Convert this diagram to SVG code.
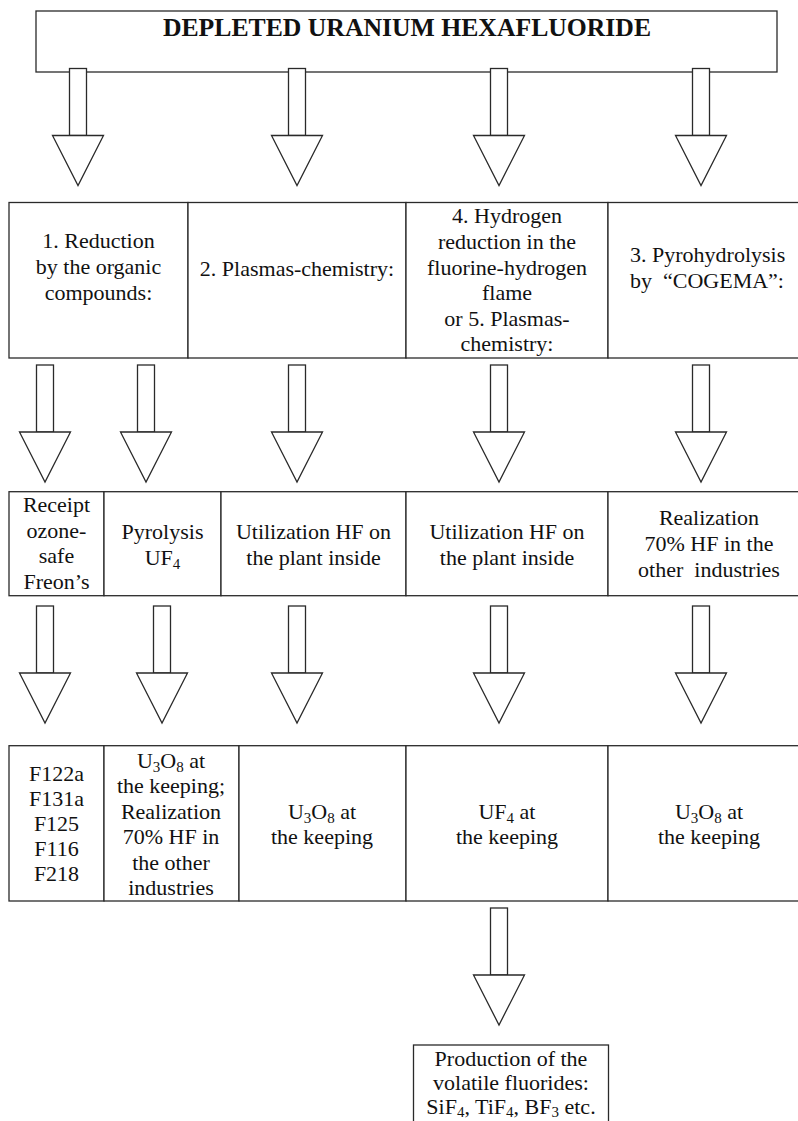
<svg xmlns="http://www.w3.org/2000/svg" xmlns:xlink="http://www.w3.org/1999/xlink" width="798" height="1121" viewBox="0 0 798 1121">
<style>
.box{fill:#fff;stroke:#2a2a2a;stroke-width:1.3}
.arr{fill:#fff;stroke:#2a2a2a;stroke-width:1.3}
text{font-family:"Liberation Serif","Times New Roman",serif;font-size:22px;fill:#111;text-anchor:middle}
.title{font-size:25.7px;font-weight:bold}
.l{text-anchor:start}
.sub{font-size:15px}
</style>
<defs>
<g id="arrow">
<rect class="arr" x="-8.5" y="0" width="17" height="67"/>
<polygon class="arr" points="-25.5,67 25.5,67 0,117"/>
</g>
</defs>
<rect width="798" height="1121" fill="#fff"/>
<g id="n-top">
<rect class="box" x="36" y="11" width="741" height="61"/>
<text class="title" x="407" y="36">DEPLETED URANIUM HEXAFLUORIDE</text>
</g>
<g id="n-r1c1">
<rect class="box" x="9" y="202.5" width="179" height="155.5"/>
<text x="98.5" y="248">1. Reduction</text>
<text x="98.5" y="274">by the organic</text>
<text x="98.5" y="300">compounds:</text>
</g>
<g id="n-r1c2">
<rect class="box" x="188" y="202.5" width="218" height="155.5"/>
<text x="297" y="276">2. Plasmas-chemistry:</text>
</g>
<g id="n-r1c3">
<rect class="box" x="406" y="202.5" width="202" height="155.5"/>
<text x="507" y="223">4. Hydrogen</text>
<text x="507" y="249">reduction in the</text>
<text x="507" y="275">fluorine-hydrogen</text>
<text x="507" y="300">flame</text>
<text x="507" y="326">or 5. Plasmas-</text>
<text x="507" y="351">chemistry:</text>
</g>
<g id="n-r1c4">
<rect class="box" x="608" y="202.5" width="195" height="155.5"/>
<text class="l" x="630" y="262">3. Pyrohydrolysis</text>
<text class="l" x="630" y="288" xml:space="preserve">by  “COGEMA”:</text>
</g>
<g id="n-r2c1">
<rect class="box" x="9" y="491.7" width="95" height="104"/>
<text x="56.5" y="512">Receipt</text>
<text x="56.5" y="538">ozone-</text>
<text x="56.5" y="563">safe</text>
<text x="56.5" y="589">Freon’s</text>
</g>
<g id="n-r2c2">
<rect class="box" x="104" y="491.7" width="117" height="104"/>
<text x="162.5" y="539">Pyrolysis</text>
<text x="162.5" y="565">UF<tspan class="sub" dy="4">4</tspan></text>
</g>
<g id="n-r2c3">
<rect class="box" x="221" y="491.7" width="185" height="104"/>
<text x="313.5" y="539">Utilization HF on</text>
<text x="313.5" y="565">the plant inside</text>
</g>
<g id="n-r2c4">
<rect class="box" x="406" y="491.7" width="202" height="104"/>
<text x="507" y="539">Utilization HF on</text>
<text x="507" y="565">the plant inside</text>
</g>
<g id="n-r2c5">
<rect class="box" x="608" y="491.7" width="195" height="104"/>
<text x="709" y="525">Realization</text>
<text x="709" y="551">70% HF in the</text>
<text x="709" y="577" xml:space="preserve">other  industries</text>
</g>
<g id="n-r3c1">
<rect class="box" x="9" y="745.7" width="95" height="155.3"/>
<text x="56.5" y="781">F122a</text>
<text x="56.5" y="806">F131a</text>
<text x="56.5" y="831">F125</text>
<text x="56.5" y="856">F116</text>
<text x="56.5" y="881">F218</text>
</g>
<g id="n-r3c2">
<rect class="box" x="104" y="745.7" width="135" height="155.3"/>
<text x="171" y="768">U<tspan class="sub" dy="4">3</tspan><tspan dy="-4">O</tspan><tspan class="sub" dy="4">8</tspan><tspan dy="-4"> at</tspan></text>
<text x="171" y="793">the keeping;</text>
<text x="171" y="819">Realization</text>
<text x="171" y="844">70% HF in</text>
<text x="171" y="870">the other</text>
<text x="171" y="895">industries</text>
</g>
<g id="n-r3c3">
<rect class="box" x="239" y="745.7" width="167" height="155.3"/>
<text x="322" y="819">U<tspan class="sub" dy="4">3</tspan><tspan dy="-4">O</tspan><tspan class="sub" dy="4">8</tspan><tspan dy="-4"> at</tspan></text>
<text x="322" y="844">the keeping</text>
</g>
<g id="n-r3c4">
<rect class="box" x="406" y="745.7" width="202" height="155.3"/>
<text x="507" y="819">UF<tspan class="sub" dy="4">4</tspan><tspan dy="-4"> at</tspan></text>
<text x="507" y="844">the keeping</text>
</g>
<g id="n-r3c5">
<rect class="box" x="608" y="745.7" width="195" height="155.3"/>
<text x="709" y="819">U<tspan class="sub" dy="4">3</tspan><tspan dy="-4">O</tspan><tspan class="sub" dy="4">8</tspan><tspan dy="-4"> at</tspan></text>
<text x="709" y="844">the keeping</text>
</g>
<g id="n-bottom">
<rect class="box" x="413.5" y="1045" width="195" height="90"/>
<text x="511" y="1066">Production of the</text>
<text x="511" y="1090">volatile fluorides:</text>
<text x="511" y="1114">SiF<tspan class="sub" dy="3">4</tspan><tspan dy="-3">, TiF</tspan><tspan class="sub" dy="3">4</tspan><tspan dy="-3">, BF</tspan><tspan class="sub" dy="3">3</tspan><tspan dy="-3"> etc.</tspan></text>
</g>
<g id="connectors">
<use xlink:href="#arrow" x="78" y="68.5"/>
<use xlink:href="#arrow" x="297" y="68.5"/>
<use xlink:href="#arrow" x="499" y="68.5"/>
<use xlink:href="#arrow" x="701" y="68.5"/>
<use xlink:href="#arrow" x="45" y="365"/>
<use xlink:href="#arrow" x="146" y="365"/>
<use xlink:href="#arrow" x="297" y="365"/>
<use xlink:href="#arrow" x="499" y="365"/>
<use xlink:href="#arrow" x="701" y="365"/>
<use xlink:href="#arrow" x="45" y="606"/>
<use xlink:href="#arrow" x="162" y="606"/>
<use xlink:href="#arrow" x="297" y="606"/>
<use xlink:href="#arrow" x="499" y="606"/>
<use xlink:href="#arrow" x="701" y="606"/>
<use xlink:href="#arrow" x="499" y="908"/>
</g>
</svg>
